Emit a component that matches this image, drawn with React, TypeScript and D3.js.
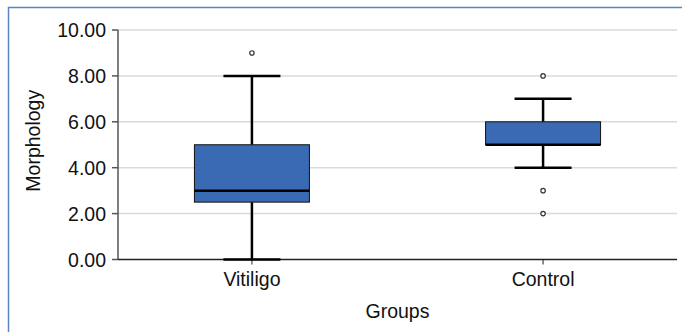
import * as d3 from 'd3';

const groups = ['Vitiligo', 'Control'];
const q1 = [2.5, 5];
const medians = [3, 5];
const q3 = [5, 6];
const whiskerLow = [0, 4];
const whiskerHigh = [8, 7];
const outliers = [[9], [8, 3, 2]];
const yTicks = [0, 2, 4, 6, 8, 10];

const W = 682;
const H = 332;
const margin = { top: 30, right: 5, bottom: 72.5, left: 118 };
const font = 'Liberation Sans, Arial, sans-serif';
const fs = 19.5;

export default function App() {
  const innerW = W - margin.left - margin.right;
  const innerH = H - margin.top - margin.bottom;

  const x = d3.scalePoint<string>().domain(groups).range([0, innerW]).padding(0.46);
  const y = d3.scaleLinear().domain([0, 10]).range([innerH, 0]);

  const boxW = 115;
  const capW = 57;

  return (
    <svg
      width={W}
      height={H}
      style={{ position: 'absolute', left: 0, top: 0, background: '#fff' }}
      fontFamily={font}
    >
      {/* outer frame, cropped on the right and bottom */}
      <rect x={8.5} y={7.5} width={W} height={H} fill="none" stroke="#5a84c6" strokeWidth={1.5} />
      <g transform={`translate(${margin.left},${margin.top})`}>
        {/* gridlines */}
        {yTicks.filter((t) => t > 0).map((t) => (
          <line key={t} x1={0} x2={innerW} y1={y(t)} y2={y(t)} stroke="#dadada" strokeWidth={1.5} />
        ))}
        {/* y axis */}
        <line x1={0} x2={0} y1={0} y2={innerH} stroke="#555" strokeWidth={1.5} />
        {yTicks.map((t) => (
          <g key={t} transform={`translate(0,${y(t)})`}>
            <line x1={-6} x2={0} stroke="#555" strokeWidth={1.5} />
            <text x={-12} dy="0.38em" textAnchor="end" fontSize={fs} fill="#111">
              {t.toFixed(2)}
            </text>
          </g>
        ))}
        {/* x axis */}
        <line x1={0} x2={innerW} y1={innerH} y2={innerH} stroke="#222" strokeWidth={1.5} />
        {groups.map((g) => (
          <g key={g} transform={`translate(${x(g)},${innerH})`}>
            <line y1={0} y2={5} stroke="#222" strokeWidth={1} />
            <text y={26.5} textAnchor="middle" fontSize={fs} fill="#111">
              {g}
            </text>
          </g>
        ))}
        <text x={innerW / 2} y={innerH + 58.5} textAnchor="middle" fontSize={fs} fill="#111">
          Groups
        </text>
        <text
          transform={`translate(${33 - margin.left},${innerH / 2 - 4}) rotate(-90)`}
          dy="0.35em"
          textAnchor="middle"
          fontSize={fs}
          fill="#111"
        >
          Morphology
        </text>
        {/* boxes */}
        {groups.map((g, i) => {
          const cx = x(g) ?? 0;
          return (
            <g key={g}>
              <line x1={cx} x2={cx} y1={y(whiskerHigh[i])} y2={y(q3[i])} stroke="#000" strokeWidth={2.5} />
              <line x1={cx} x2={cx} y1={y(q1[i])} y2={y(whiskerLow[i])} stroke="#000" strokeWidth={2.5} />
              <line x1={cx - capW / 2} x2={cx + capW / 2} y1={y(whiskerHigh[i])} y2={y(whiskerHigh[i])} stroke="#000" strokeWidth={2.5} />
              <line x1={cx - capW / 2} x2={cx + capW / 2} y1={y(whiskerLow[i])} y2={y(whiskerLow[i])} stroke="#000" strokeWidth={2.5} />
              <rect
                x={cx - boxW / 2}
                y={y(q3[i])}
                width={boxW}
                height={y(q1[i]) - y(q3[i])}
                fill="#3a6ab3"
                stroke="#111"
                strokeWidth={1}
              />
              <line x1={cx - boxW / 2} x2={cx + boxW / 2} y1={y(medians[i])} y2={y(medians[i])} stroke="#000" strokeWidth={2.5} />
              {outliers[i].map((o, k) => (
                <circle key={k} cx={cx} cy={y(o)} r={2.2} fill="#fff" stroke="#333" strokeWidth={1.2} />
              ))}
            </g>
          );
        })}
      </g>
    </svg>
  );
}
